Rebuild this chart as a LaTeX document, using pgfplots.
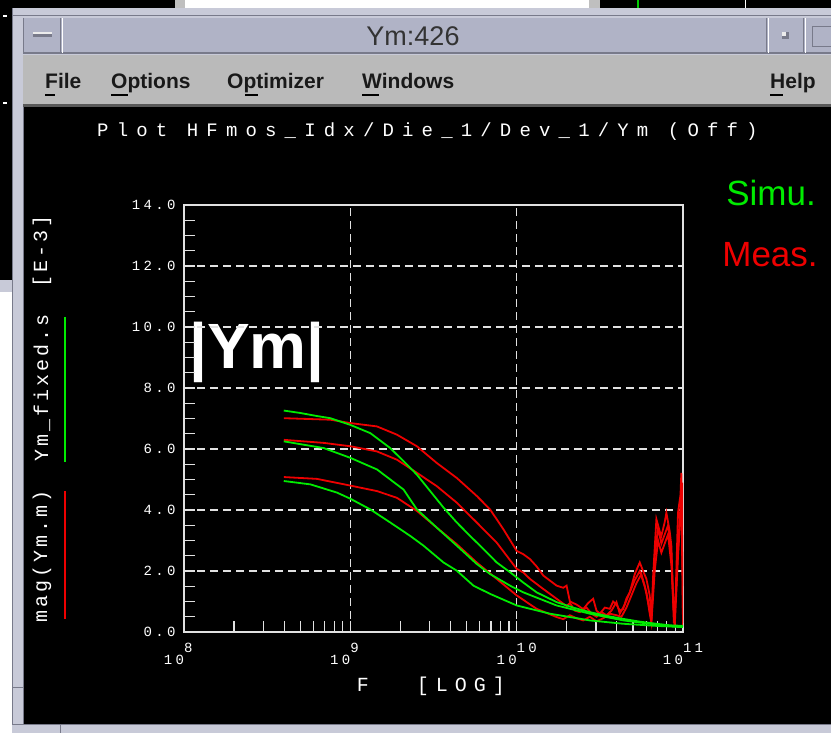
\documentclass[border=0pt]{standalone}
\usepackage{pgfplots}
\pgfplotsset{compat=1.18}
\usepackage{fontspec}
\setmainfont{Liberation Sans}
\newfontfamily\titlemono[LetterSpace=43]{Liberation Mono}
\newfontfamily\tickmono[LetterSpace=24]{Liberation Mono}
\newfontfamily\labmono[LetterSpace=15]{Liberation Mono}
\newfontfamily\xlabmono[LetterSpace=35]{Liberation Mono}

\definecolor{frame}{RGB}{200,202,216}
\definecolor{framedk}{RGB}{120,122,138}
\definecolor{titlebar}{RGB}{176,179,198}
\definecolor{menubar}{RGB}{186,186,186}
\definecolor{gridc}{RGB}{225,225,225}
\definecolor{simg}{RGB}{0,235,0}
\definecolor{measr}{RGB}{238,0,0}

\newcommand{\xl}[1]{\makebox[0pt][r]{10}\makebox[0pt][l]{\raisebox{12pt}{#1}}}

\begin{document}
\begin{tikzpicture}[x=1pt,y=1pt]
\path[use as bounding box] (0,0) rectangle (831,733);
\begin{scope}[shift={(0,733)},yscale=-1]
  % surroundings
  \fill[black] (0,0) rectangle (831,8);
  \fill[gray!50] (175,0) rectangle (185,8);
  \fill[white] (185,0) rectangle (589,8);
  \fill[gray!50] (589,0) rectangle (600,8);
  \draw[green!80!black, line width=1.5] (638,0) -- (638,8);
  \draw[white, line width=1] (745,0) -- (745,8);
  \fill[black] (0,0) rectangle (12,280);
  \fill[frame] (0,280) rectangle (12,292);
  \fill[white] (0,292) rectangle (12,733);
  \draw[white, line width=1.2] (3,16) -- (7,16);
  \draw[white, line width=1.2] (3,103) -- (7,103);
  % window frame
  \fill[frame] (12,8) rectangle (831,733);
  \draw[framedk, line width=1] (12,8) -- (12,733);
  \draw[framedk, line width=1] (12,16) -- (831,16);
  % title bar
  \fill[titlebar] (23,18) rectangle (831,53);
  \draw[framedk, line width=1.5] (23,53) -- (831,53);
  \draw[framedk, line width=1] (60,18) -- (60,53);
  \draw[white, line width=1] (62,18) -- (62,53);
  \draw[framedk, line width=1] (23,18) -- (23,53);
  \fill[framedk] (33,32) rectangle (52,37);
  \fill[white!85!gray] (33,32) rectangle (52,34);
  \draw[framedk, line width=1] (766,18) -- (766,53);
  \draw[white, line width=1] (768,18) -- (768,53);
  \draw[framedk, line width=1] (803,18) -- (803,53);
  \draw[white, line width=1] (805,18) -- (805,53);
  \fill[framedk] (782,32) rectangle (789,39);
  \fill[white!85!gray] (782,32) rectangle (786,36);
  \draw[framedk, line width=1] (812,27) rectangle (831,47);
  % menu bar
  \fill[menubar] (23,55) rectangle (831,105);
  \fill[gray!70!black] (23,104) rectangle (831,107);
  % content
  \fill[black] (23,107) rectangle (831,725);
  \draw[framedk, line width=1] (23,107) -- (23,725);
  \fill[frame] (12,725) rectangle (831,733);
  \draw[framedk, line width=1] (12,725) -- (831,725);
  \draw[framedk, line width=1] (60,725) -- (60,733);
  \draw[framedk, line width=1] (12,688) -- (23,688);
  % title and menu text
  \node[anchor=base, text=black!80, font=\fontsize{27}{27}\selectfont] at (413,46) {Ym:426};
  \begin{scope}[every node/.style={anchor=base west, text=black!90, inner sep=0pt, font=\fontsize{21}{21}\selectfont\bfseries}]
    \node at (45,89) {File};
    \node at (111,89) {Options};
    \node at (227,89) {Optimizer};
    \node at (362,89) {Windows};
    \node at (770,89) {Help};
  \end{scope}
  \draw[black, line width=1.5] (45,95) -- (55,95);
  \draw[black, line width=1.5] (111,95) -- (128,95);
  \draw[black, line width=1.5] (245,95) -- (258,95);
  \draw[black, line width=1.5] (362,95) -- (379,95);
  \draw[black, line width=1.5] (770,95) -- (783,95);
  % plot title
  \node[anchor=base west, inner sep=0pt, text=white, font=\fontsize{19}{19}\titlemono] at (97,137) {Plot HFmos\_Idx/Die\_1/Dev\_1/Ym (Off)};
  % left rotated labels and legend lines
  \node[rotate=90, text=white, font=\fontsize{20}{20}\labmono] at (42,556) {mag(Ym.m)};
  \node[rotate=90, text=white, font=\fontsize{20}{20}\labmono] at (42,388) {Ym\_fixed.s};
  \node[rotate=90, text=white, font=\fontsize{20}{20}\labmono] at (42,252) {[E-3]};
  \draw[simg, line width=2] (65,317) -- (65,462);
  \draw[measr, line width=2] (65,491) -- (65,619);
  % x label
  \node[text=white, font=\fontsize{20}{20}\xlabmono] at (431,686) {F\hspace{48pt}[LOG]};
  % annotations
  \node[text=white, font=\fontsize{64}{64}\selectfont\bfseries] at (257,352) {|Ym|};
  \node[text=simg, font=\fontsize{35}{35}\selectfont] at (771,193) {Simu.};
  \node[text=measr, font=\fontsize{35}{35}\selectfont] at (770,255) {Meas.};
\end{scope}

\begin{axis}[
  at={(184pt,101pt)}, anchor=south west, scale only axis,
  width=499pt, height=427pt,
  xmin=8, xmax=11, ymin=0, ymax=14,
  axis line style={gridc, line width=1.5pt},
  xtick={8,9,10,11},
  xticklabels={\xl{8},\xl{9},\xl{10},\xl{11}},
  minor xtick={8.30103,8.47712,8.60206,8.69897,8.77815,8.84510,8.90309,8.95424,
               9.30103,9.47712,9.60206,9.69897,9.77815,9.84510,9.90309,9.95424,
               10.30103,10.47712,10.60206,10.69897,10.77815,10.84510,10.90309,10.95424},
  ytick={0,2,4,6,8,10,12,14},
  yticklabels={0.0,2.0,4.0,6.0,8.0,10.0,12.0,14.0},
  minor y tick num=3,
  tick pos=left, tick align=inside,
  major tick length=11pt, minor tick length=11pt,
  every tick/.style={gridc, line width=1.2pt},
  grid=major,
  major grid style={gridc, dash pattern=on 8pt off 5pt, line width=1.5pt},
  tick label style={text=white, font=\fontsize{14}{14}\tickmono},
  xticklabel style={yshift=-8pt},
  yticklabel style={xshift=-5pt},
  every axis plot/.append style={line width=1.8pt, no markers},
]
% measured (red)
\addplot[measr] coordinates {
(8.60,7.01)(8.88,6.96)(9.00,6.85)(9.16,6.74)(9.28,6.47)(9.40,6.09)(9.52,5.54)(9.64,5.05)
(9.76,4.46)(9.84,4.02)(9.92,3.37)(10.00,2.66)(10.04,2.55)(10.08,2.39)(10.12,2.15)(10.16,1.85)(10.24,1.52)
(10.28,1.45)(10.30,1.52)(10.32,1.00)(10.36,0.90)(10.40,0.75)(10.43,0.95)(10.46,1.09)(10.48,0.70)
(10.50,0.60)(10.53,0.80)(10.56,0.76)(10.58,1.00)(10.60,0.90)(10.62,0.70)(10.64,0.75)(10.66,1.10)
(10.68,1.30)(10.71,1.90)(10.74,2.28)(10.76,2.00)(10.78,1.74)(10.80,1.20)(10.81,0.45)(10.82,1.80)
(10.84,3.70)(10.86,3.30)(10.87,3.15)(10.89,3.60)(10.90,3.91)(10.92,3.30)(10.93,2.83)(10.94,1.20)
(10.95,0.22)(10.96,2.00)(10.97,3.91)(10.985,4.50)(10.99,5.22)(10.995,3.00)(11.0,1.50)
};
\addplot[measr] coordinates {
(8.60,6.30)(8.84,6.20)(9.00,6.09)(9.16,5.92)(9.28,5.65)(9.40,5.22)(9.52,4.78)(9.64,4.24)
(9.76,3.59)(9.88,2.93)(10.00,2.07)(10.04,1.95)(10.08,1.74)(10.16,1.41)(10.24,1.09)(10.30,0.85)
(10.32,0.95)(10.35,0.70)(10.38,0.65)(10.42,0.80)(10.45,0.60)(10.48,0.50)(10.51,0.65)(10.54,0.55)
(10.57,0.70)(10.60,0.98)(10.62,0.60)(10.65,0.90)(10.68,1.30)(10.71,1.70)(10.74,2.00)(10.77,1.50)
(10.79,1.00)(10.81,0.40)(10.83,2.50)(10.85,3.40)(10.87,2.90)(10.89,3.20)(10.91,3.50)(10.93,2.60)
(10.945,0.30)(10.96,1.50)(10.975,3.20)(10.99,4.60)(11.0,0.30)
};
\addplot[measr] coordinates {
(8.60,5.08)(8.80,5.02)(9.00,4.80)(9.16,4.62)(9.28,4.40)(9.40,3.97)(9.52,3.42)(9.64,2.88)
(9.76,2.28)(9.88,1.74)(10.00,1.20)(10.12,0.76)(10.24,0.49)(10.28,0.42)(10.32,0.55)(10.36,0.45)
(10.40,0.38)(10.44,0.50)(10.48,0.35)(10.52,0.45)(10.56,0.60)(10.60,0.55)(10.63,0.50)(10.66,0.80)
(10.69,1.20)(10.72,1.60)(10.75,1.90)(10.78,1.30)(10.80,0.60)(10.81,0.30)(10.83,2.00)(10.85,3.00)
(10.87,2.60)(10.89,2.90)(10.91,3.20)(10.93,2.20)(10.95,0.15)(10.97,2.50)(10.985,3.80)(10.995,4.90)(11.0,0.20)
};
% simulated (green)
\addplot[simg] coordinates {
(8.60,7.26)(8.70,7.18)(8.80,7.08)(8.88,7.01)(9.00,6.79)(9.12,6.52)(9.24,6.03)(9.32,5.60)
(9.40,5.16)(9.48,4.62)(9.56,4.08)(9.64,3.59)(9.72,3.15)(9.80,2.72)(9.88,2.28)(9.96,1.96)
(10.04,1.62)(10.12,1.30)(10.24,0.98)(10.34,0.80)(10.44,0.65)(10.54,0.53)(10.64,0.43)
(10.74,0.34)(10.84,0.27)(10.92,0.22)(11.0,0.20)
};
\addplot[simg] coordinates {
(8.60,6.25)(8.72,6.14)(8.84,6.03)(9.00,5.71)(9.16,5.33)(9.32,4.67)(9.40,4.02)(9.52,3.42)
(9.64,2.83)(9.76,2.23)(9.84,1.90)(9.96,1.52)(10.04,1.30)(10.24,0.87)(10.44,0.60)(10.64,0.38)
(10.84,0.24)(11.0,0.16)
};
\addplot[simg] coordinates {
(8.60,4.95)(8.76,4.84)(8.92,4.57)(9.00,4.37)(9.12,4.02)(9.24,3.59)(9.36,3.15)(9.44,2.83)
(9.56,2.28)(9.64,2.01)(9.74,1.52)(9.84,1.25)(10.00,0.87)(10.20,0.60)(10.44,0.38)(10.64,0.27)
(10.84,0.20)(11.0,0.16)
};
\end{axis}
\end{tikzpicture}
\end{document}
